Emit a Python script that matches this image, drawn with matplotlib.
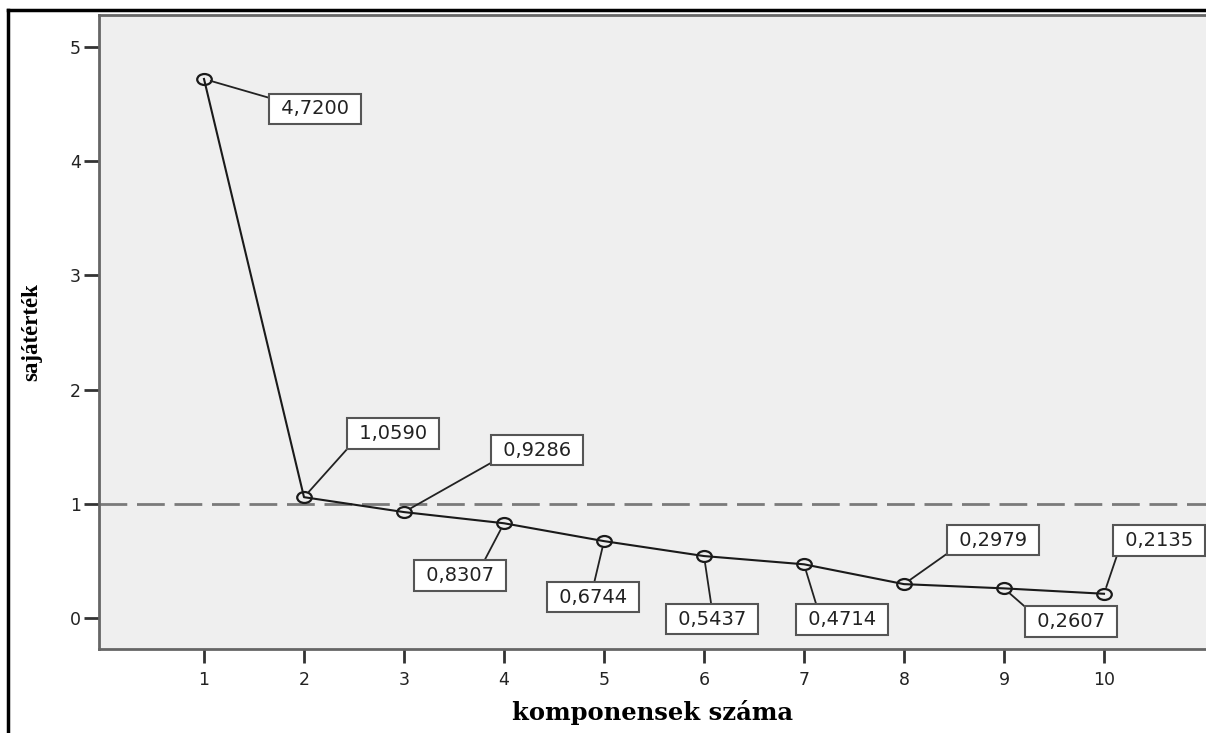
import matplotlib.pyplot as plt
from matplotlib.lines import Line2D
from matplotlib.path import Path

components = list(range(1, 11))
eigenvalues = [4.7200, 1.0590, 0.9286, 0.8307, 0.6744, 0.5437, 0.4714, 0.2979, 0.2607, 0.2135]
value_labels = ['4,7200', '1,0590', '0,9286', '0,8307', '0,6744',
                '0,5437', '0,4714', '0,2979', '0,2607', '0,2135']

# label box offsets in pixels and where the leader line attaches on the box
offsets = [(111, -30), (89, 64), (133, 62), (-44, -52), (-11, -56),
           (8, -63), (38, -55), (89, 44), (67, -33), (55, 53)]
relpos = [(0, 1), (0, 0), (0, 0), (0.77, 1), (0.5, 1),
          (0.5, 1), (0.2, 1), (0, 0), (0, 1), (0, 0)]

# slightly flattened circle marker
circ = Path.unit_circle()
ellipse = Path(circ.vertices * [1, 0.75], circ.codes)

fig = plt.figure(figsize=(12.06, 7.33), dpi=100)
ax = fig.add_axes([99 / 1206, 84 / 733, 1 - 99 / 1206, 634 / 733])
ax.set_facecolor('#efefef')

ax.axhline(1, color='#7a7a7a', lw=2, dashes=(10, 3.5), zorder=1)
ax.plot(components, eigenvalues, color='#1a1a1a', lw=1.5, marker=ellipse, ms=10.5,
        mfc='none', mec='#1a1a1a', mew=1.6, zorder=3)

for x, y, txt, off, rp in zip(components, eigenvalues, value_labels, offsets, relpos):
    ax.annotate(' ' + txt + ' ', (x, y), xytext=off, textcoords='offset pixels',
                ha='center', va='center', fontsize=14, color='#222222',
                family='DejaVu Sans',
                bbox=dict(boxstyle='square,pad=0.3', fc='white', ec='#555555', lw=1.5),
                arrowprops=dict(arrowstyle='-', color='#222222', lw=1.3,
                                relpos=rp, shrinkA=0, shrinkB=5),
                zorder=4)

ax.set_xlim(-0.05, 11.02)
ax.set_ylim(-0.27, 5.28)
ax.set_xticks(components)
ax.set_yticks([0, 1, 2, 3, 4, 5])
ax.tick_params(axis='both', colors='#333333', labelsize=12.5, width=2, labelcolor='#222222')
ax.tick_params(axis='y', length=11, pad=2)
ax.tick_params(axis='x', length=10, pad=6)

for side in ['left', 'top', 'bottom']:
    ax.spines[side].set_color('#666666')
    ax.spines[side].set_linewidth(2)
ax.spines['right'].set_visible(False)

ax.set_xlabel('komponensek száma', family='DejaVu Serif', fontweight='bold',
              fontsize=17.5, labelpad=8)
ax.set_ylabel('sajátérték', family='Liberation Serif', fontweight='bold',
              fontsize=16.5, labelpad=20)

# outer frame
fig.add_artist(Line2D([8 / 1206, 8 / 1206], [0, 1 - 10 / 733], color='black', lw=2.5,
                      transform=fig.transFigure))
fig.add_artist(Line2D([8 / 1206, 1], [1 - 10 / 733, 1 - 10 / 733], color='black', lw=2.5,
                      transform=fig.transFigure))

fig.savefig('out.png', dpi=100)
